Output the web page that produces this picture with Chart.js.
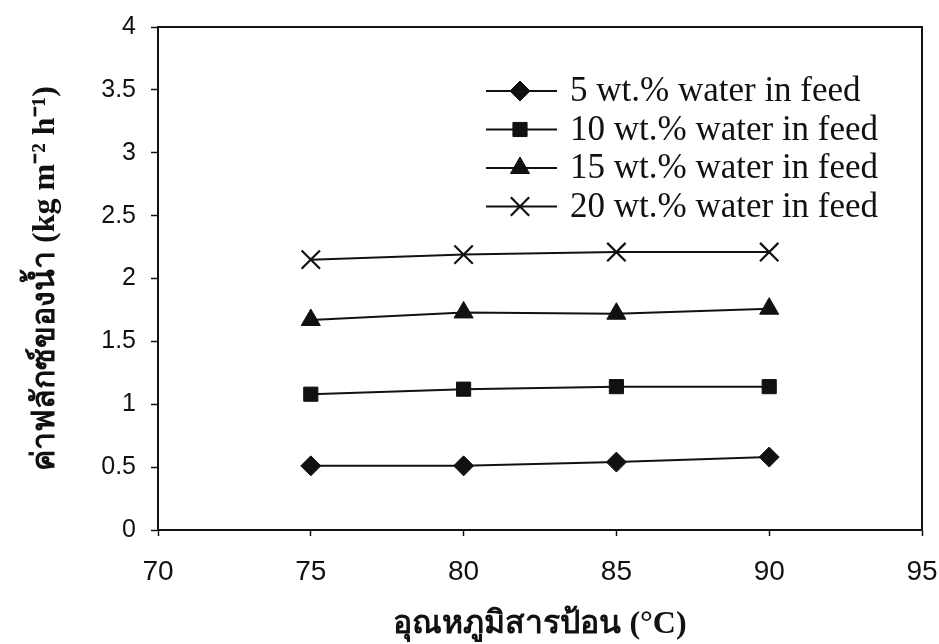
<!DOCTYPE html>
<html>
<head>
<meta charset="utf-8">
<script src="https://cdn.jsdelivr.net/npm/chart.js@4.4.1/dist/chart.umd.min.js"></script>
<style>
  html, body { margin: 0; padding: 0; background: #fff; }
  #wrap { width: 939px; height: 644px; position: relative; }
</style>
</head>
<body>
<div id="wrap"><canvas id="c" width="939" height="644"></canvas></div>
<script>
// Feed temperature (°C)
const temperatures = [75, 80, 85, 90];

// Water flux (kg m-2 h-1) for each water content in the feed
const flux5  = [0.51, 0.51, 0.54, 0.58];
const flux10 = [1.08, 1.12, 1.14, 1.14];
const flux15 = [1.67, 1.73, 1.72, 1.76];
const flux20 = [2.15, 2.19, 2.21, 2.21];

const seriesLabels = [
  '5 wt.% water in feed',
  '10 wt.% water in feed',
  '15 wt.% water in feed',
  '20 wt.% water in feed'
];

const xTickValues = [70, 75, 80, 85, 90, 95];
const yTickValues = [0, 0.5, 1, 1.5, 2, 2.5, 3, 3.5, 4];

const xTitle = 'อุณหภูมิสารป้อน (°C)';
const yTitle = 'ค่าฟลักซ์ของน้ำ (kg m⁻² h⁻¹)';

const INK = '#111111';
const toPoints = vals => vals.map((v, i) => ({ x: temperatures[i], y: v }));

const markerStyles = [
  { pointStyle: 'rectRot',  pointRadius: 10 },
  { pointStyle: 'rect',     pointRadius: 10 },
  { pointStyle: 'triangle', pointRadius: 11 },
  { pointStyle: 'crossRot', pointRadius: 13 }
];

const datasets = [flux5, flux10, flux15, flux20].map((vals, i) => ({
  label: seriesLabels[i],
  data: toPoints(vals),
  borderColor: INK,
  backgroundColor: INK,
  borderWidth: 2,
  pointBorderColor: INK,
  pointBackgroundColor: INK,
  pointBorderWidth: i === 3 ? 2.2 : 1,
  pointStyle: markerStyles[i].pointStyle,
  pointRadius: markerStyles[i].pointRadius,
  pointHoverRadius: markerStyles[i].pointRadius,
  tension: 0,
  fill: false
}));

// Frame around the plotting area
const framePlugin = {
  id: 'frame',
  afterDatasetsDraw(chart) {
    const { ctx, chartArea: a } = chart;
    ctx.save();
    ctx.strokeStyle = INK;
    ctx.lineWidth = 2;
    ctx.strokeRect(a.left, a.top, a.right - a.left, a.bottom - a.top);
    ctx.restore();
  }
};

// Legend drawn inside the plot: short line with the series marker, then the label
const insideLegend = {
  id: 'insideLegend',
  afterDatasetsDraw(chart) {
    const { ctx, chartArea: a } = chart;
    const lineStart = a.right - 436;
    const lineEnd = a.right - 365;
    const markX = a.right - 402;
    const textX = a.right - 352;
    const firstY = a.top + 64;
    const rowGap = 38.5;
    ctx.save();
    chart.data.datasets.forEach((ds, i) => {
      const y = firstY + i * rowGap;
      ctx.strokeStyle = INK;
      ctx.lineWidth = 2;
      ctx.beginPath();
      ctx.moveTo(lineStart, y);
      ctx.lineTo(lineEnd, y);
      ctx.stroke();
      ctx.fillStyle = INK;
      ctx.strokeStyle = INK;
      ctx.lineWidth = ds.pointBorderWidth;
      Chart.helpers.drawPoint(ctx, {
        pointStyle: ds.pointStyle,
        rotation: 0,
        radius: ds.pointRadius,
        borderWidth: ds.pointBorderWidth
      }, markX, y);
      ctx.fillStyle = INK;
      ctx.font = '35px "Liberation Serif", "Times New Roman", serif';
      ctx.textBaseline = 'middle';
      ctx.textAlign = 'left';
      ctx.fillText(ds.label, textX, y + 1);
    });
    ctx.restore();
  }
};

new Chart(document.getElementById('c'), {
  type: 'line',
  data: { datasets },
  plugins: [framePlugin, insideLegend],
  options: {
    responsive: false,
    animation: false,
    devicePixelRatio: 1,
    layout: { padding: { top: 27, right: 17, left: 0, bottom: 0 } },
    plugins: {
      legend: { display: false },
      tooltip: { enabled: false },
      title: { display: false }
    },
    scales: {
      x: {
        type: 'linear',
        min: 70,
        max: 95,
        afterFit(scale) {
          scale.height = 114;
          scale.paddingLeft = 0;
          scale.paddingRight = 0;
        },
        afterBuildTicks(scale) { scale.ticks = xTickValues.map(v => ({ value: v })); },
        border: { display: true, color: INK, width: 2 },
        grid: {
          display: true,
          drawOnChartArea: false,
          drawTicks: true,
          tickLength: 6,
          tickColor: INK,
          tickWidth: 1.5
        },
        ticks: {
          color: INK,
          padding: 19,
          maxRotation: 0,
          font: { family: '"Liberation Sans", Arial, sans-serif', size: 28 }
        },
        title: {
          display: true,
          text: xTitle,
          color: INK,
          padding: { top: 0, bottom: 0 },
          font: { family: '"Liberation Serif", "Times New Roman", serif', size: 32, weight: 'bold' }
        }
      },
      y: {
        type: 'linear',
        min: 0,
        max: 4,
        afterFit(scale) {
          scale.width = 158;
          scale.paddingTop = 0;
          scale.paddingBottom = 0;
        },
        afterBuildTicks(scale) { scale.ticks = yTickValues.map(v => ({ value: v })); },
        border: { display: true, color: INK, width: 2 },
        grid: {
          display: true,
          drawOnChartArea: false,
          drawTicks: true,
          tickLength: 7,
          tickColor: INK,
          tickWidth: 1.5
        },
        ticks: {
          color: INK,
          padding: 15,
          callback: v => String(v),
          font: { family: '"Liberation Sans", Arial, sans-serif', size: 25 }
        },
        title: {
          display: true,
          text: yTitle,
          color: INK,
          padding: { top: 27, bottom: 0 },
          font: { family: '"Liberation Serif", "Times New Roman", serif', size: 32, weight: 'bold' }
        }
      }
    }
  }
});
</script>
</body>
</html>
